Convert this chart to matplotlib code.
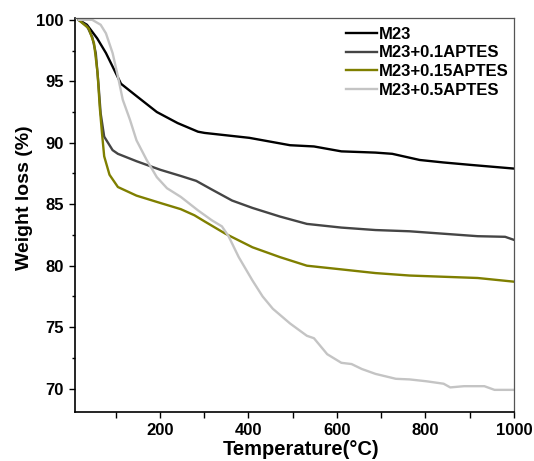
import numpy as np
import matplotlib
matplotlib.use('Agg')
import matplotlib.pyplot as plt
from matplotlib.ticker import MultipleLocator

plt.rcParams['font.family'] = ['Liberation Sans', 'DejaVu Sans']
plt.rcParams['font.weight'] = 'bold'

# M23
t_m23 = [16, 35, 58, 78, 93, 112, 147, 193, 240, 286, 301, 402, 494, 548, 610, 687, 725, 787, 840, 902, 1000]
w_m23 = [100, 99.6, 98.5, 97.3, 96.2, 94.8, 93.8, 92.5, 91.6, 90.9, 90.8, 90.4, 89.8, 89.7, 89.3, 89.2, 89.1, 88.6, 88.4, 88.2, 87.9]

# M23+0.1APTES
t_01 = [16, 35, 47, 55, 61, 66, 74, 93, 105, 147, 201, 247, 282, 317, 363, 409, 471, 532, 610, 687, 764, 841, 918, 980, 1000]
w_01 = [100, 99.5, 98.6, 97.3, 94.8, 92.4, 90.5, 89.4, 89.1, 88.5, 87.8, 87.3, 86.9, 86.2, 85.3, 84.7, 84.0, 83.4, 83.1, 82.9, 82.8, 82.6, 82.4, 82.35, 82.1]

# M23+0.15APTES
t_015 = [16, 39, 51, 59, 64, 69, 74, 86, 105, 147, 201, 247, 278, 301, 348, 409, 471, 532, 610, 687, 764, 841, 918, 1000]
w_015 = [100, 99.3, 98.1, 95.7, 92.9, 90.8, 88.9, 87.4, 86.4, 85.7, 85.1, 84.6, 84.1, 83.6, 82.6, 81.5, 80.7, 80.0, 79.7, 79.4, 79.2, 79.1, 79.0, 78.7]

# M23+0.5APTES
t_05 = [16, 47, 66, 78, 93, 105, 116, 132, 147, 170, 193, 216, 247, 286, 317, 340, 355, 378, 409, 432, 455, 494, 532,
        548, 578, 610, 633, 656, 687, 733, 764, 802, 841, 856, 887, 933, 956, 1000]
w_05 = [100, 100, 99.6, 98.9, 97.3, 95.4, 93.5, 91.9, 90.2, 88.6, 87.2, 86.3, 85.6, 84.5, 83.7, 83.2, 82.4, 80.7, 78.8, 77.5, 76.5, 75.3, 74.3,
        74.1, 72.8, 72.1, 72.0, 71.6, 71.2, 70.8, 70.75, 70.6, 70.4, 70.1, 70.2, 70.2, 69.9, 69.9]

LABELS = ['M23', 'M23+0.1APTES', 'M23+0.15APTES', 'M23+0.5APTES']
COLOR = ['#000000', '#454545', '#7f7f00', '#c4c4c4']

fig = plt.figure(figsize=(5.34, 4.61), dpi=100)
ax = fig.add_axes([0.1404, 0.1063, 0.8221, 0.8547])

series = [(t_m23, w_m23), (t_01, w_01), (t_015, w_015), (t_05, w_05)]
for (t, w), lab, c in zip(series, LABELS, COLOR):
    ax.plot(t, w, color=c, lw=1.7, label=lab)

ax.set_xlim(8, 1000)
ax.set_ylim(68.1, 100.15)
ax.xaxis.set_major_locator(MultipleLocator(200))
ax.xaxis.set_minor_locator(MultipleLocator(100))
ax.yaxis.set_major_locator(MultipleLocator(5))
ax.yaxis.set_minor_locator(MultipleLocator(2.5))
ax.tick_params(which='major', direction='out', length=4.5, width=1, labelsize=12, pad=3.5)
ax.tick_params(axis='x', which='minor', direction='out', length=4.5, width=1)
ax.tick_params(axis='y', which='minor', direction='out', length=2.5, width=1)
for lbl in ax.get_xticklabels() + ax.get_yticklabels():
    lbl.set_fontweight('bold')

for s in ['left', 'bottom']:
    ax.spines[s].set_linewidth(1.2)
for s in ['top', 'right']:
    ax.spines[s].set_color('#555555')
    ax.spines[s].set_linewidth(0.9)

ax.set_xlabel('Temperature(°C)', fontsize=14.5, fontweight='bold')
ax.set_ylabel('Weight loss (%)', fontsize=14, fontweight='bold')
ax.xaxis.set_label_coords(0.514, -0.07)
ax.yaxis.set_label_coords(-0.096, 0.543)

leg = ax.legend(loc='upper right', bbox_to_anchor=(0.9886, 0.978), frameon=False, fontsize=12,
                handlelength=1.85, handletextpad=0.12, labelspacing=0.23,
                borderaxespad=0, borderpad=0)
for txt in leg.get_texts():
    txt.set_fontweight('bold')

fig.savefig('out.png', dpi=100)
